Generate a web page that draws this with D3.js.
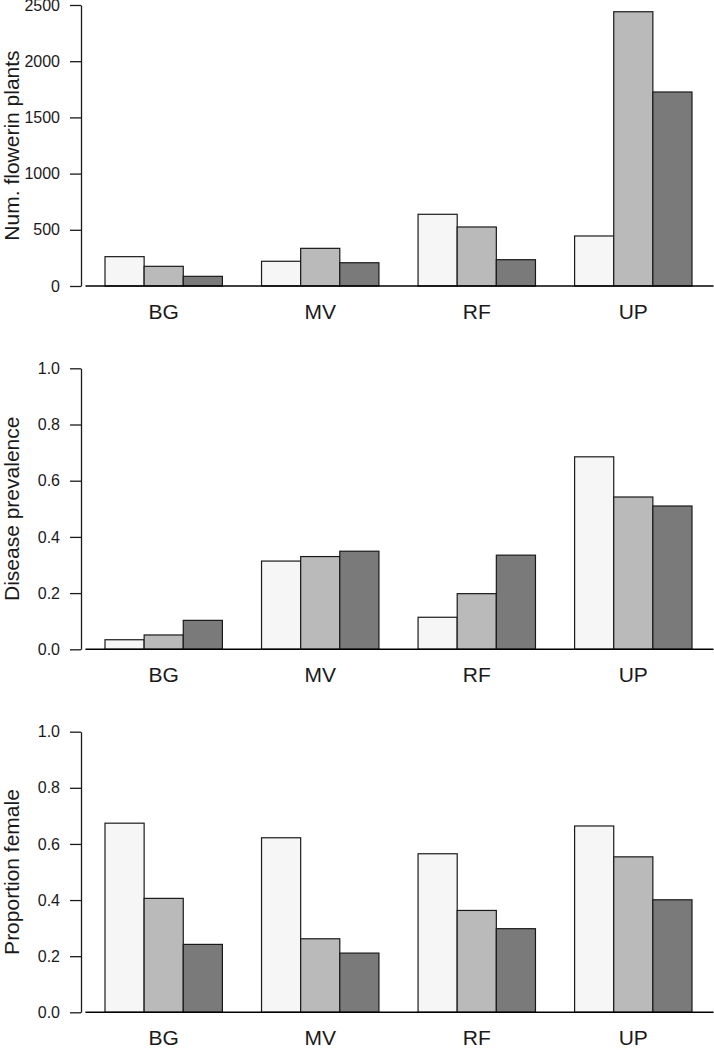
<!DOCTYPE html>
<html>
<head>
<meta charset="utf-8">
<script src="https://cdn.jsdelivr.net/npm/d3@7"></script>
<style>
  html, body { margin: 0; padding: 0; background: #fff; }
  svg { display: block; font-family: "Liberation Sans", Arial, sans-serif; }
</style>
</head>
<body>
<svg id="chart" width="714" height="1050"></svg>
<script>
// ---- data ----
const sites = ["BG", "MV", "RF", "UP"];
const seriesColors = ["#f6f6f6", "#bababa", "#7a7a7a"];

const flowering = [
  [261, 175, 86],
  [220, 335, 207],
  [638, 525, 234],
  [445, 2440, 1726]
];
const prevalence = [
  [0.034, 0.051, 0.103],
  [0.314, 0.330, 0.349],
  [0.114, 0.198, 0.335],
  [0.685, 0.542, 0.510]
];
const femaleProp = [
  [0.674, 0.406, 0.242],
  [0.622, 0.262, 0.211],
  [0.565, 0.363, 0.298],
  [0.664, 0.554, 0.401]
];

const flowerTicks = [0, 500, 1000, 1500, 2000, 2500];
const propTicks = [0, 0.2, 0.4, 0.6, 0.8, 1.0];

const panels = [
  { title: "Num. flowerin plants", data: flowering, max: 2500, ticks: flowerTicks, fmt: d3.format("d"), top: 5, bottom: 286 },
  { title: "Disease prevalence", data: prevalence, max: 1, ticks: propTicks, fmt: d3.format(".1f"), top: 368.3, bottom: 649.3 },
  { title: "Proportion female", data: femaleProp, max: 1, ticks: propTicks, fmt: d3.format(".1f"), top: 731.7, bottom: 1012.3 }
];

// ---- layout ----
const svg = d3.select("#chart");
// bar units (R barplot style: each group = 1 space + 3 bars)
const x = d3.scaleLinear().domain([1, 16]).range([105, 692]);
const axisX = 81;

panels.forEach(p => {
  const y = d3.scaleLinear().domain([0, p.max]).range([p.bottom, p.top]);
  const g = svg.append("g");

  // bars
  p.data.forEach((vals, gi) => {
    vals.forEach((v, si) => {
      const u = 1 + gi * 4 + si;
      g.append("rect")
        .attr("x", x(u))
        .attr("y", y(v))
        .attr("width", x(u + 1) - x(u))
        .attr("height", y(0) - y(v))
        .attr("fill", seriesColors[si])
        .attr("stroke", "#1a1a1a")
        .attr("stroke-width", 1.2);
    });
  });

  // baseline
  g.append("line")
    .attr("x1", x(0.5)).attr("x2", x(16.55))
    .attr("y1", y(0)).attr("y2", y(0))
    .attr("stroke", "#000").attr("stroke-width", 1.4);

  // y axis
  const ax = g.append("g")
    .attr("transform", `translate(${axisX},0)`)
    .call(d3.axisLeft(y).tickValues(p.ticks).tickFormat(p.fmt).tickSize(11).tickSizeOuter(0).tickPadding(10));
  ax.select(".domain").attr("stroke", "#1a1a1a").attr("stroke-width", 1.3);
  ax.selectAll(".tick line").attr("stroke", "#1a1a1a").attr("stroke-width", 1.3);
  ax.selectAll(".tick text")
    .attr("font-size", 16)
    .attr("fill", "#1a1a1a")
    .attr("font-family", "'Liberation Sans', Arial, sans-serif");

  // category labels
  sites.forEach((s, gi) => {
    g.append("text")
      .attr("x", x(1 + gi * 4 + 1.5))
      .attr("y", y(0) + 33)
      .attr("text-anchor", "middle")
      .attr("font-size", 21)
      .attr("fill", "#1a1a1a")
      .text(s);
  });

  // y title
  g.append("text")
    .attr("transform", `translate(19,${(p.top + p.bottom) / 2}) rotate(-90)`)
    .attr("text-anchor", "middle")
    .attr("font-size", 21)
    .attr("fill", "#1a1a1a")
    .text(p.title);
});
</script>
</body>
</html>
